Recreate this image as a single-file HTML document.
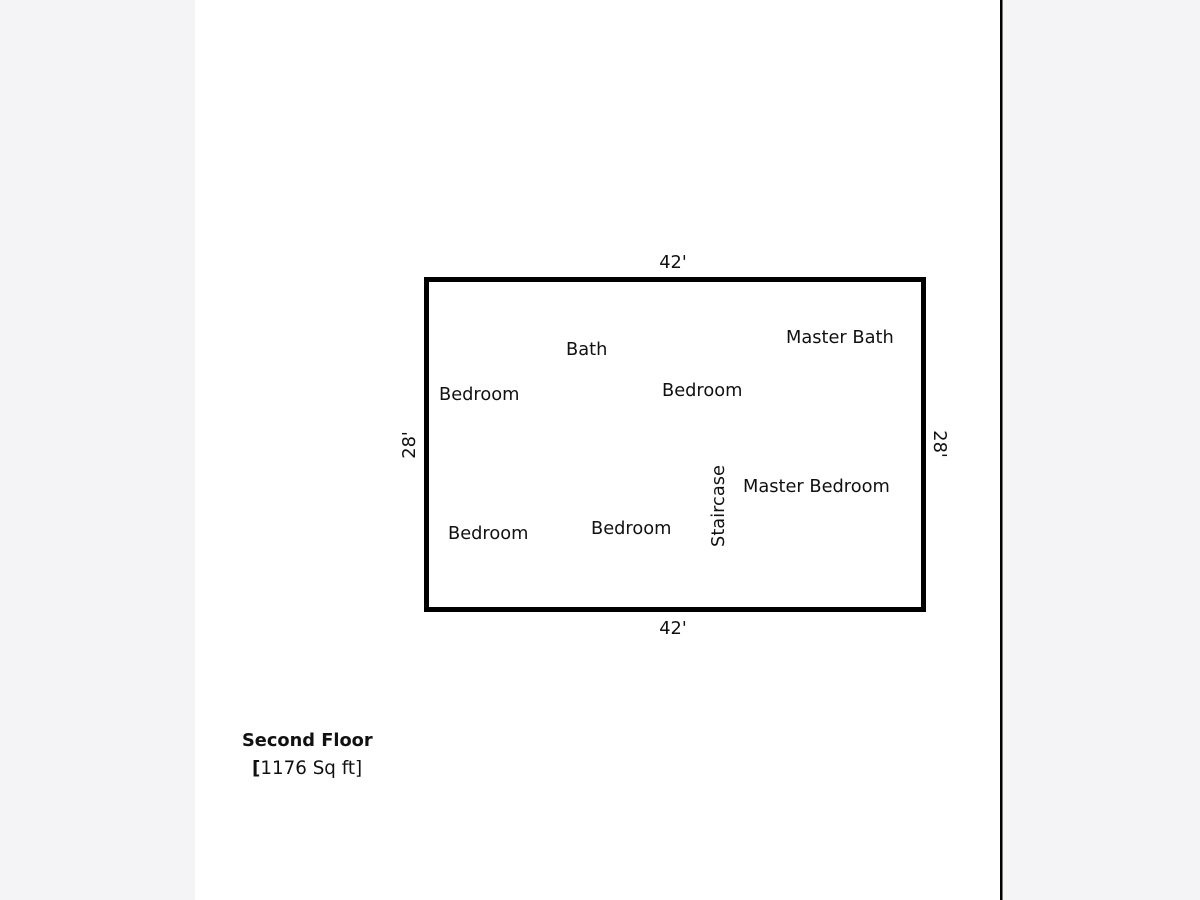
<!DOCTYPE html>
<html><head><meta charset="utf-8"><style>
html,body{margin:0;padding:0;width:1200px;height:900px;overflow:hidden;background:#f4f3f6}
svg{display:block}
text{font-family:"DejaVu Sans","Liberation Sans",sans-serif;fill:#111}
</style></head><body>
<svg width="1200" height="900" xmlns="http://www.w3.org/2000/svg">
<rect x="0" y="0" width="1200" height="900" fill="#f4f3f6"/>
<rect x="195" y="0" width="807" height="900" fill="#fff"/>
<rect x="1000" y="0" width="2.5" height="900" fill="#000"/>
<rect x="426.5" y="279.5" width="497" height="330" fill="none" stroke="#000" stroke-width="5"/>
<g font-size="17.8">
<text x="673" y="268" text-anchor="middle">42'</text>
<text x="673" y="634" text-anchor="middle">42'</text>
<text transform="translate(415,445) rotate(-90)" text-anchor="middle">28'</text>
<text transform="translate(934,444) rotate(90)" text-anchor="middle">28'</text>
<text x="566" y="355">Bath</text>
<text x="786" y="343">Master Bath</text>
<text x="439" y="400">Bedroom</text>
<text x="662" y="396">Bedroom</text>
<text x="743" y="492">Master Bedroom</text>
<text x="448" y="539">Bedroom</text>
<text x="591" y="534">Bedroom</text>
<text transform="translate(724,506) rotate(-90)" text-anchor="middle">Staircase</text>
<text x="242" y="746" font-weight="bold">Second Floor</text>
<text x="252" y="774" font-size="18.3"><tspan font-weight="bold">[</tspan>1176 Sq ft]</text>
</g>
</svg>
</body></html>
